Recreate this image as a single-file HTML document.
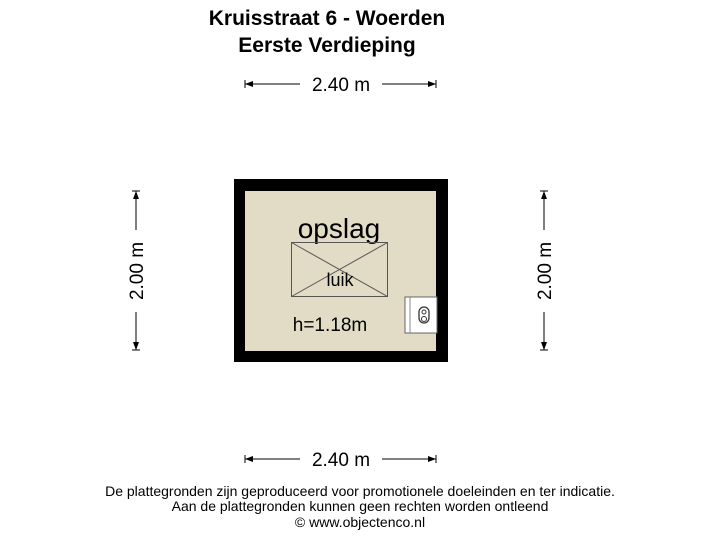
<!DOCTYPE html>
<html><head><style>
body{margin:0;width:720px;height:540px;background:#fff;overflow:hidden;font-family:"Liberation Sans",Arial,sans-serif}
</style></head><body>
<svg width="720" height="540" viewBox="0 0 720 540" xmlns="http://www.w3.org/2000/svg" font-family="Liberation Sans, Arial, sans-serif">
<text x="327" y="25" font-size="21" font-weight="bold" text-anchor="middle">Kruisstraat 6 - Woerden</text>
<text x="327" y="52" font-size="21" font-weight="bold" text-anchor="middle">Eerste Verdieping</text>
<g stroke="#000" stroke-width="1">
<line x1="245" y1="84" x2="300" y2="84"/><line x1="382" y1="84" x2="436" y2="84"/>
<line x1="245" y1="459" x2="300" y2="459"/><line x1="382" y1="459" x2="436" y2="459"/>
<line x1="136" y1="191" x2="136" y2="230"/><line x1="136" y1="312" x2="136" y2="350"/>
<line x1="544" y1="191" x2="544" y2="230"/><line x1="544" y1="312" x2="544" y2="350"/>
<line x1="245" y1="80" x2="245" y2="88"/><line x1="436" y1="80" x2="436" y2="88"/>
<line x1="245" y1="455" x2="245" y2="463"/><line x1="436" y1="455" x2="436" y2="463"/>
<line x1="132" y1="191" x2="140" y2="191"/><line x1="132" y1="350" x2="140" y2="350"/>
<line x1="540" y1="191" x2="548" y2="191"/><line x1="540" y1="350" x2="548" y2="350"/>
</g>
<g fill="#000">
<polygon points="245,84 253,81 253,87"/><polygon points="436,84 428,81 428,87"/>
<polygon points="245,459 253,456 253,462"/><polygon points="436,459 428,456 428,462"/>
<polygon points="136,191 133,199 139,199"/><polygon points="136,350 133,342 139,342"/>
<polygon points="544,191 541,199 547,199"/><polygon points="544,350 541,342 547,342"/>
</g>
<text x="341" y="91" font-size="19" text-anchor="middle">2.40 m</text>
<text x="341" y="466" font-size="19" text-anchor="middle">2.40 m</text>
<text transform="translate(143,271) rotate(-90)" font-size="19" text-anchor="middle">2.00 m</text>
<text transform="translate(551,271) rotate(-90)" font-size="19" text-anchor="middle">2.00 m</text>
<rect x="234" y="179" width="214" height="183" fill="#000"/>
<rect x="245" y="191" width="191" height="160" fill="#e2dbc5"/>
<text x="339" y="238" font-size="28" text-anchor="middle">opslag</text>
<g stroke="#555" stroke-width="1" fill="none">
<rect x="291.5" y="242.5" width="96" height="54"/>
<line x1="291.5" y1="242.5" x2="387.5" y2="296.5"/><line x1="387.5" y1="242.5" x2="291.5" y2="296.5"/>
</g>
<text x="340" y="286" font-size="18" text-anchor="middle">luik</text>
<text x="330" y="331" font-size="19" text-anchor="middle">h=1.18m</text>
<rect x="405" y="297" width="32" height="36" fill="#fff" stroke="#666" stroke-width="1"/>
<line x1="410" y1="297" x2="410" y2="333" stroke="#888"/>
<rect x="419" y="307" width="10" height="16" rx="5" fill="none" stroke="#333" stroke-width="1.3"/>
<circle cx="424" cy="312" r="2" fill="none" stroke="#333"/><circle cx="424" cy="319" r="2.5" fill="none" stroke="#333"/>
<text x="360" y="496" font-size="14" text-anchor="middle">De plattegronden zijn geproduceerd voor promotionele doeleinden en ter indicatie.</text>
<text x="360" y="511" font-size="14" text-anchor="middle">Aan de plattegronden kunnen geen rechten worden ontleend</text>
<text x="360" y="527" font-size="14" text-anchor="middle">© www.objectenco.nl</text>
</svg>
</body></html>
